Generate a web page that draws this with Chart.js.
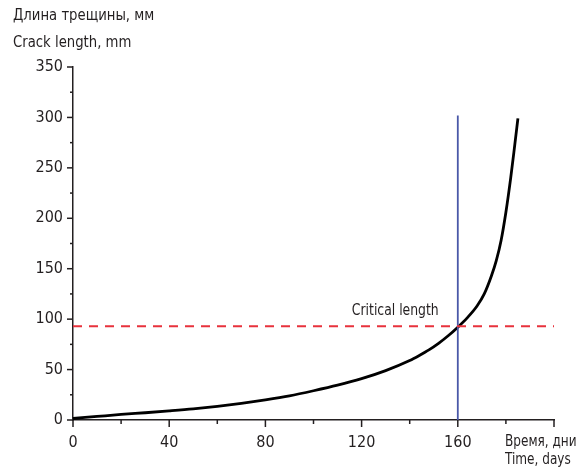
<!DOCTYPE html>
<html>
<head>
<meta charset="utf-8">
<script src="https://cdn.jsdelivr.net/npm/chart.js@4/dist/chart.umd.min.js"></script>
<style>
html,body{margin:0;padding:0;background:#fff;}
#wrap{width:585px;height:468px;position:relative;}
</style>
</head>
<body>
<div id="wrap"><canvas id="c" width="585" height="468"></canvas></div>
<script>
const days = [0, 10, 20, 30, 40, 50, 60, 70, 80, 90, 100, 110, 120, 130, 140, 144, 148, 152, 156, 160, 164, 168, 171, 174, 176, 178, 180, 182, 183.7, 185];
const crackLength = [1.5, 3.5, 5.5, 7.2, 9, 11, 13.5, 16.5, 20, 24, 29, 34.5, 41, 49, 59, 64, 69.5, 76, 83.5, 92, 101.5, 113, 125, 143, 158, 178, 206, 240, 273, 299];
const criticalLength = 93;
const criticalDay = 160;
const criticalTop = 302;
const xMax = 200;
const yMax = 350;
const xLabelTicks = [0, 40, 80, 120, 160];
const yLabelTicks = [0, 50, 100, 150, 200, 250, 300, 350];
const yTitle = ["Длина трещины, мм", "Crack length, mm"];
const xTitle = ["Время, дни", "Time, days"];
const annotationText = "Critical length";

const FONT = "'Liberation Sans Narrow', 'DejaVu Sans Condensed', 'Noto Sans', sans-serif";
const INK = '#231f20';

const curve = days.map((d, i) => ({x: d, y: crackLength[i]}));

function narrowText(ctx, text, x, y, align, sx) {
  ctx.save();
  ctx.translate(x, y);
  ctx.scale(sx, 1);
  ctx.textAlign = align;
  ctx.fillText(text, 0, 0);
  ctx.restore();
}

const extras = {
  id: 'extras',
  afterDraw(chart) {
    const ctx = chart.ctx;
    const xs = chart.scales.x, ys = chart.scales.y;
    ctx.save();
    ctx.strokeStyle = INK;
    ctx.lineWidth = 1.5;
    for (let v = 0; v <= yMax; v += 25) {
      const py = ys.getPixelForValue(v);
      const major = v % 50 === 0;
      ctx.beginPath();
      ctx.moveTo(xs.left - (major ? 6 : 3), py);
      ctx.lineTo(xs.left, py);
      ctx.stroke();
    }
    for (let d = 0; d <= xMax; d += 20) {
      const px = xs.getPixelForValue(d);
      const major = d % 40 === 0 || d === xMax;
      ctx.beginPath();
      ctx.moveTo(px, ys.bottom);
      ctx.lineTo(px, ys.bottom + (major ? 7 : 4));
      ctx.stroke();
    }
    ctx.fillStyle = INK;
    ctx.font = '16px ' + FONT;
    ctx.textBaseline = 'middle';
    narrowText(ctx, yTitle[0], 13, 16, 'left', 0.92);
    narrowText(ctx, yTitle[1], 13, 43, 'left', 0.92);
    narrowText(ctx, xTitle[0], 505, 442, 'left', 0.84);
    narrowText(ctx, xTitle[1], 505, 460, 'left', 0.84);
    ctx.font = '15px ' + FONT;
    narrowText(ctx, annotationText, xs.getPixelForValue(134), ys.getPixelForValue(criticalLength) - 15, 'center', 0.92);
    ctx.restore();
  }
};

new Chart(document.getElementById('c'), {
  type: 'scatter',
  data: {
    datasets: [
      {
        data: [{x: 0, y: criticalLength}, {x: xMax, y: criticalLength}],
        showLine: true, borderColor: '#e8323c', borderWidth: 2, borderDash: [9, 7],
        pointRadius: 0, clip: false
      },
      {
        data: [{x: criticalDay, y: 0}, {x: criticalDay, y: criticalTop}],
        showLine: true, borderColor: '#4a58a8', borderWidth: 1.8,
        pointRadius: 0, clip: false
      },
      {
        data: curve,
        showLine: true, borderColor: '#000', borderWidth: 2.8,
        cubicInterpolationMode: 'monotone',
        pointRadius: 0, clip: false
      }
    ]
  },
  options: {
    responsive: false,
    animation: false,
    devicePixelRatio: 1,
    layout: {padding: {left: 0, top: 67, right: 31, bottom: 0}},
    plugins: {legend: {display: false}, tooltip: {enabled: false}},
    scales: {
      x: {
        type: 'linear', min: 0, max: xMax,
        afterFit(s) { s.height = 48; },
        grid: {drawOnChartArea: false, drawTicks: false},
        border: {display: true, color: INK, width: 1.5},
        afterBuildTicks(s) { s.ticks = xLabelTicks.map(v => ({value: v})); },
        ticks: {color: INK, font: {family: FONT, size: 16}, padding: 13, maxRotation: 0, autoSkip: false}
      },
      y: {
        type: 'linear', min: 0, max: yMax,
        afterFit(s) { s.width = 73; },
        grid: {drawOnChartArea: false, drawTicks: false},
        border: {display: true, color: INK, width: 1.5},
        afterBuildTicks(s) { s.ticks = yLabelTicks.map(v => ({value: v})); },
        ticks: {color: INK, font: {family: FONT, size: 16}, padding: 10, autoSkip: false}
      }
    }
  },
  plugins: [extras]
});
</script>
</body>
</html>
